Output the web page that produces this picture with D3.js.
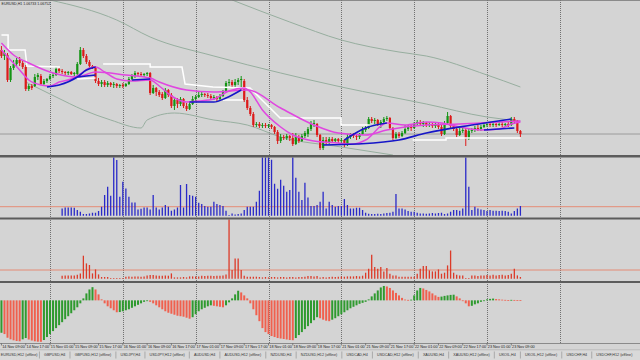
<!DOCTYPE html>
<html><head><meta charset="utf-8">
<script src="https://cdn.jsdelivr.net/npm/d3@7"></script>
<style>html,body{margin:0;padding:0;background:#d4d4d4;overflow:hidden}svg{display:block}</style>
</head><body>
<svg id="chart" width="640" height="360"></svg>
<script>
// ---------- DATA (EURUSD, H1) ----------
const openP=[
1.0750,1.0744,1.0745,1.0720,1.0732,1.0736,1.0740,1.0737,1.0733,1.0711,
1.0714,1.0714,1.0723,1.0724,1.0716,1.0719,1.0721,1.0724,1.0725,1.0731,
1.0729,1.0728,1.0727,1.0728,1.0726,1.0726,1.0736,1.0750,1.0744,1.0738,
1.0734,1.0733,1.0719,1.0716,1.0718,1.0715,1.0717,1.0715,1.0716,1.0714,
1.0715,1.0714,1.0716,1.0721,1.0724,1.0727,1.0726,1.0725,1.0726,1.0727,
1.0707,1.0712,1.0708,1.0706,1.0702,1.0710,1.0705,1.0694,1.0700,1.0696,
1.0701,1.0694,1.0691,1.0696,1.0701,1.0703,1.0705,1.0706,1.0705,1.0704,
1.0702,1.0703,1.0701,1.0704,1.0708,1.0717,1.0718,1.0715,1.0718,1.0720,
1.0719,1.0700,1.0692,1.0686,1.0675,1.0676,1.0674,1.0675,1.0674,1.0675,
1.0673,1.0668,1.0659,1.0663,1.0662,1.0664,1.0662,1.0656,1.0663,1.0659,
1.0664,1.0666,1.0671,1.0676,1.0676,1.0665,1.0652,1.0660,1.0658,1.0661,
1.0659,1.0661,1.0659,1.0660,1.0655,1.0663,1.0665,1.0664,1.0663,1.0666,
1.0670,1.0672,1.0681,1.0679,1.0680,1.0676,1.0678,1.0681,1.0682,1.0672,
1.0662,1.0666,1.0664,1.0667,1.0671,1.0673,1.0672,1.0676,1.0678,1.0676,
1.0677,1.0675,1.0676,1.0674,1.0675,1.0673,1.0666,1.0677,1.0684,1.0674,
1.0671,1.0665,1.0669,1.0670,1.0661,1.0669,1.0670,1.0672,1.0671,1.0673,
1.0675,1.0676,1.0675,1.0676,1.0675,1.0676,1.0675,1.0676,1.0675,1.0681,
1.0679,1.0669];
const highP=[
1.0754,1.0750,1.0747,1.0734,1.0740,1.0742,1.0743,1.0739,1.0735,1.0716,
1.0716,1.0726,1.0727,1.0726,1.0721,1.0722,1.0726,1.0727,1.0733,1.0732,
1.0731,1.0729,1.0729,1.0729,1.0728,1.0738,1.0753,1.0752,1.0746,1.0740,
1.0735,1.0734,1.0722,1.0720,1.0720,1.0719,1.0718,1.0718,1.0717,1.0716,
1.0717,1.0717,1.0723,1.0726,1.0729,1.0728,1.0728,1.0727,1.0728,1.0728,
1.0715,1.0713,1.0710,1.0708,1.0712,1.0711,1.0707,1.0703,1.0702,1.0703,
1.0702,1.0697,1.0699,1.0704,1.0705,1.0708,1.0708,1.0707,1.0707,1.0706,
1.0705,1.0704,1.0706,1.0710,1.0719,1.0721,1.0720,1.0721,1.0722,1.0724,
1.0721,1.0703,1.0694,1.0688,1.0678,1.0678,1.0677,1.0677,1.0676,1.0676,
1.0674,1.0670,1.0666,1.0665,1.0666,1.0665,1.0667,1.0667,1.0665,1.0666,
1.0669,1.0673,1.0679,1.0680,1.0677,1.0666,1.0663,1.0663,1.0663,1.0663,
1.0662,1.0662,1.0662,1.0661,1.0666,1.0667,1.0667,1.0666,1.0667,1.0673,
1.0674,1.0683,1.0683,1.0682,1.0681,1.0680,1.0683,1.0684,1.0683,1.0673,
1.0668,1.0668,1.0669,1.0675,1.0675,1.0675,1.0678,1.0680,1.0680,1.0679,
1.0678,1.0678,1.0677,1.0677,1.0677,1.0675,1.0679,1.0688,1.0685,1.0676,
1.0673,1.0672,1.0673,1.0672,1.0671,1.0672,1.0674,1.0675,1.0675,1.0677,
1.0678,1.0678,1.0678,1.0677,1.0678,1.0678,1.0677,1.0678,1.0683,1.0683,
1.0680,1.0670];
const lowP=[
1.0742,1.0740,1.0718,1.0718,1.0730,1.0734,1.0734,1.0731,1.0709,1.0709,
1.0710,1.0713,1.0720,1.0715,1.0715,1.0717,1.0720,1.0722,1.0724,1.0727,
1.0726,1.0725,1.0725,1.0725,1.0724,1.0725,1.0735,1.0742,1.0736,1.0732,
1.0731,1.0717,1.0714,1.0713,1.0713,1.0713,1.0713,1.0712,1.0712,1.0712,
1.0712,1.0713,1.0715,1.0720,1.0722,1.0724,1.0723,1.0723,1.0724,1.0705,
1.0706,1.0704,1.0703,1.0700,1.0701,1.0703,1.0692,1.0690,1.0692,1.0694,
1.0692,1.0689,1.0690,1.0695,1.0699,1.0702,1.0703,1.0703,1.0702,1.0701,
1.0700,1.0699,1.0700,1.0703,1.0707,1.0714,1.0712,1.0713,1.0715,1.0710,
1.0698,1.0690,1.0684,1.0673,1.0673,1.0672,1.0672,1.0672,1.0672,1.0671,
1.0666,1.0656,1.0657,1.0660,1.0660,1.0659,1.0654,1.0655,1.0657,1.0658,
1.0662,1.0663,1.0669,1.0673,1.0663,1.0650,1.0650,1.0655,1.0656,1.0657,
1.0657,1.0657,1.0657,1.0653,1.0654,1.0661,1.0662,1.0660,1.0661,1.0665,
1.0668,1.0671,1.0677,1.0676,1.0674,1.0672,1.0676,1.0679,1.0670,1.0660,
1.0661,1.0662,1.0663,1.0666,1.0669,1.0669,1.0671,1.0674,1.0674,1.0673,
1.0673,1.0673,1.0672,1.0672,1.0671,1.0664,1.0665,1.0676,1.0672,1.0669,
1.0663,1.0664,1.0667,1.0654,1.0660,1.0667,1.0668,1.0669,1.0669,1.0672,
1.0673,1.0673,1.0673,1.0673,1.0674,1.0673,1.0673,1.0673,1.0674,1.0676,
1.0667,1.0663];
const closeP=[
1.0744,1.0747,1.0720,1.0732,1.0736,1.0740,1.0737,1.0733,1.0711,1.0714,
1.0712,1.0723,1.0725,1.0716,1.0719,1.0721,1.0724,1.0725,1.0731,1.0729,
1.0728,1.0727,1.0728,1.0726,1.0727,1.0736,1.0750,1.0744,1.0738,1.0734,
1.0733,1.0719,1.0716,1.0718,1.0715,1.0717,1.0715,1.0716,1.0714,1.0715,
1.0714,1.0716,1.0721,1.0724,1.0727,1.0726,1.0725,1.0726,1.0727,1.0707,
1.0712,1.0708,1.0705,1.0702,1.0710,1.0705,1.0694,1.0700,1.0696,1.0701,
1.0694,1.0691,1.0696,1.0701,1.0703,1.0705,1.0706,1.0705,1.0704,1.0702,
1.0703,1.0701,1.0704,1.0708,1.0717,1.0718,1.0715,1.0718,1.0720,1.0721,
1.0700,1.0692,1.0686,1.0675,1.0676,1.0674,1.0675,1.0674,1.0675,1.0673,
1.0668,1.0659,1.0663,1.0662,1.0664,1.0662,1.0656,1.0663,1.0659,1.0664,
1.0667,1.0671,1.0676,1.0677,1.0665,1.0652,1.0660,1.0658,1.0661,1.0659,
1.0661,1.0659,1.0660,1.0655,1.0663,1.0665,1.0664,1.0663,1.0666,1.0670,
1.0672,1.0681,1.0679,1.0680,1.0676,1.0678,1.0681,1.0682,1.0672,1.0662,
1.0666,1.0664,1.0667,1.0671,1.0673,1.0672,1.0676,1.0678,1.0676,1.0677,
1.0675,1.0676,1.0674,1.0675,1.0673,1.0666,1.0677,1.0684,1.0674,1.0671,
1.0665,1.0669,1.0670,1.0661,1.0669,1.0670,1.0672,1.0671,1.0673,1.0675,
1.0676,1.0675,1.0676,1.0675,1.0676,1.0675,1.0676,1.0675,1.0681,1.0679,
1.0669,1.0666];

// moving averages (bar index, price)
const maFastBars=[0,3,6,9,13,16,19,23,26,29,31,34,38,43,49,52,56,61,65,70,75,80,82,86,92,96,103,111,116,120,127,133,140,145,151,158,164,168,171];
const maFastPrice=[1.0750,1.0740,1.0730,1.0720,1.0715,1.0714,1.0718,1.0721,1.0726,1.0732,1.0733,1.0728,1.0721,1.0719,1.0720,1.0714,1.0704,1.0698,1.0699,1.0701,1.0709,1.0712,1.0708,1.0690,1.0673,1.0665,1.0659,1.0657,1.0656,1.0660,1.0677,1.0675,1.0678,1.0677,1.0673,1.0670,1.0671,1.0676,1.0678];
const maSlowBars=[0,4,9,16,25,31,41,49,52,61,70,81,92,103,111,120,127,140,151,164,171];
const maSlowPrice=[1.0757,1.0745,1.0737,1.0728,1.0723,1.0728,1.0725,1.0722,1.0718,1.0710,1.0708,1.0710,1.0692,1.0675,1.0667,1.0665,1.0670,1.0675,1.0676,1.0678,1.0679];
// blue trend segments (null = break)
const blueBars=[15,19,25,28,31,null,25,31,null,43,49,null,62,70,74,79,null,106,117,131,140,155,168,null,113,120,127,null,159,169];
const bluePrice=[1.0713,1.0715,1.0723,1.0730,1.0733,null,1.0723,1.0725,null,1.0720,1.0721,null,1.0698,1.0698,1.0702,1.0710,null,1.0655,1.0656,1.0660,1.0667,1.0675,1.0681,null,1.0660,1.0672,1.0677,null,1.0670,1.0672];
// white price channel (null = break)
const whiteBars=[0,2.2,2.2,7.8,8.4,19.3,null,25,31,null,33.5,49,49,59.5,60.5,69.7,81.9,91.8,111.9,111.9,121.4,null,73,79.6,null,135.5,146.5,146.5,171];
const whitePrice=[1.0765,1.0765,1.0750,1.0750,1.0734,1.0733,null,1.0721,1.0722,null,1.0736,1.0736,1.0733,1.0733,1.0716,1.0713,1.0712,1.0682,1.0682,1.0675,1.0675,null,1.0700,1.0700,null,1.0660,1.0660,1.0662,1.0662];
// long period envelope lines
const bandUpperBars=[76,95,112,131,140,160,171];
const bandUpperPrice=[1.0800,1.0778,1.0760,1.0748,1.0744,1.0725,1.0713];
const bandMidBars=[16,38,49,70,92,112,140,160,171];
const bandMidPrice=[1.0800,1.0780,1.0763,1.0744,1.0727,1.0713,1.0696,1.0683,1.0679];
const bandLowerBars=[8,18,27,36,46,48,57,70,81,92,112,129];
const bandLowerPrice=[1.0718,1.0703,1.0690,1.0680,1.0672,1.0680,1.0687,1.0680,1.0675,1.0663,1.0653,1.0645];

// indicator window 1 (blue bars), starts at bar 20
const volFirstBar=20;
const volBlue=[730,830,830,830,800,570,400,170,170,230,300,300,470,900,2070,2900,2000,6000,5570,1900,
3400,2730,1900,1330,1330,630,700,830,830,630,2070,830,630,830,1070,900,500,630,830,3070,
830,3170,2070,2000,1900,1300,1170,970,900,900,1400,1170,1070,970,500,70,230,130,170,230,
570,900,900,900,1400,2500,6000,6000,6000,5600,3200,2700,3600,3000,2400,2570,6000,3800,2400,1570,
3300,1830,970,970,1070,1400,2400,730,1400,1070,900,970,970,1670,1070,730,730,800,800,570,
300,200,170,170,200,170,230,270,300,400,2170,730,730,630,470,400,400,300,230,230,
200,230,270,230,270,300,170,230,400,570,570,500,730,6000,2900,570,900,730,630,570,
470,570,500,500,470,500,470,400,230,470,730,970];
const volBlueLevel=900;
// indicator window 2 (red bars), starts at bar 20
const volRed=[300,330,330,330,330,400,530,2300,1530,1370,530,930,430,170,170,170,70,50,50,50,
70,200,230,200,230,230,200,230,330,370,370,330,300,300,330,300,530,130,130,130,
170,130,230,230,230,230,300,270,300,300,270,300,300,330,430,6000,870,2030,2030,870,
300,200,200,200,200,170,130,170,130,170,170,130,170,170,130,170,170,130,170,170,
200,270,270,230,270,130,170,130,170,200,170,200,230,200,230,230,230,270,230,300,
600,1000,2400,1170,1000,1170,730,1070,500,330,330,200,200,200,200,200,200,500,1000,1270,
1270,830,730,730,930,500,600,1330,2830,600,400,330,330,70,70,330,330,270,330,330,
370,330,400,330,370,400,330,370,500,1000,330,170];
const volRedLevel=870;
// indicator window 3 (histogram)
const histVals=[-32.7,-34,-37.7,-39.3,-40.3,-41,-41.3,-39.3,-38,-39.5,
-40.5,-41.3,-41.7,-41.8,-40,-37,-34,-31,-28,-25,
-22,-19,-16,-13,-10,-7,-3,2,7,11,
13.3,11,6,1,-3,-6,-8,-10,-12,-11.8,
-11,-10,-9,-7.5,-6,-4.5,-3,-1.5,-0.5,-1.5,
-3,-5,-7,-9,-11,-12.5,-13.5,-14.5,-15.5,-16,
-16.5,-17.5,-18.5,-17,-14,-11,-9,-7.5,-6,-5,
-5.5,-6,-6.5,-7,-5,-2,2,6,9.7,8,
5,2,-3,-9,-15,-21,-28,-32,-34,-36,
-37,-38,-38.5,-39,-39.5,-40,-40.2,-38,-35,-32,
-29,-26,-23,-20,-17,-18,-19.5,-20.5,-21,-19.5,
-18,-16,-14,-12,-10,-8,-6.5,-5,-3.5,-2.5,
-1.5,1,4,7,10,13,14.5,14,12.5,10,
7.5,5,2.5,0.8,0.5,0.7,5,10,12.5,12,
10.5,9,7,5,3.5,3.8,4.5,5,5.5,5.7,
4,2,-0.5,-3,-6,-5.5,-4,-3,-1.5,-0.5,
1,1.5,1.8,1.3,1,0.7,0.5,0.3,0.5,0.4,
0.3,0.2];

// axis / tabs
const gridBars=[16,40,64,88,112,136,160,184];
const timeLabelBars=[0,8,16,24,32,40,48,56,64,72,80,88,96,104,112,120,128,136,144,152,160,168];
const timeLabels=["14 Nov 09:00","14 Nov 17:00","15 Nov 01:00","15 Nov 09:00","15 Nov 17:00","16 Nov 01:00","16 Nov 09:00","16 Nov 17:00","17 Nov 01:00","17 Nov 09:00","17 Nov 17:00","18 Nov 01:00","18 Nov 09:00","18 Nov 17:00","21 Nov 01:00","21 Nov 09:00","21 Nov 17:00","22 Nov 01:00","22 Nov 09:00","22 Nov 17:00","23 Nov 01:00","23 Nov 09:00"];
const tabLabels=["EURUSD,H12 (offline)","GBPUSD,H4","GBPUSD,H12 (offline)","USDJPY,H4","USDJPY,H12 (offline)","AUDUSD,H4","AUDUSD,H12 (offline)","NZDUSD,H4","NZDUSD,H12 (offline)","USDCAD,H4","USDCAD,H12 (offline)","XAUUSD,H4","XAUUSD,H12 (offline)","UKOIL,H4","UKOIL,H12 (offline)","USDCHF,H4","USDCHF,H12 (offline)"];
const titleText="EURUSD,H1 1.06733 1.06752";

// ---------- DRAW ----------
const svg=d3.select('#chart');
const FONT='"Liberation Sans", Arial, sans-serif';
svg.append('rect').attr('width',640).attr('height',360).attr('fill','#d4d4d4');

const N=openP.length;
const xs=d3.scaleLinear().domain([0,N-1]).range([1.44,520.4]);
const yP=d3.scaleLinear().domain([1.0645,1.0800]).range([155,0]);
const yVol=d3.scaleLinear().domain([0,5900]).range([215.7,156.7]);
const yRed=d3.scaleLinear().domain([0,5900]).range([278.7,219.7]);
const yHist=d3.scaleLinear().domain([-42,17.5]).range([342,283]);

const defs=svg.append('defs');
function clip(id,y,h){defs.append('clipPath').attr('id',id).append('rect').attr('x',0).attr('y',y).attr('width',640).attr('height',h);}
clip('cMain',0,155);clip('cVol',157.5,60);clip('cRed',219.5,61.5);clip('cHist',283,60);

// grid (dotted day separators)
svg.append('g').selectAll('line').data(gridBars).join('line')
 .attr('x1',d=>Math.round(xs(d))+0.5).attr('x2',d=>Math.round(xs(d))+0.5)
 .attr('y1',0).attr('y2',343).attr('stroke','#707070').attr('stroke-width',1).attr('stroke-dasharray','1,1');

// ---- main panel
const gM=svg.append('g').attr('clip-path','url(#cMain)');
function pts(bars,vals){return bars.map((b,i)=>({b:b,v:vals[i]}));}
const lineGen=(curve)=>d3.line().defined(d=>d.b!==null&&d.v!==null).x(d=>xs(d.b)).y(d=>yP(d.v)).curve(curve);

const bandColor='#97ae9f';
[[bandUpperBars,bandUpperPrice],[bandMidBars,bandMidPrice],[bandLowerBars,bandLowerPrice]].forEach(([b,v])=>{
  gM.append('path').attr('d',lineGen(d3.curveMonotoneX)(pts(b,v))).attr('fill','none').attr('stroke',bandColor).attr('stroke-width',1);
});
// bid line
gM.append('line').attr('x1',0).attr('x2',640).attr('y1',yP(closeP[N-1])).attr('y2',yP(closeP[N-1])).attr('stroke','#8e8e8e').attr('stroke-width',0.8);

// candles
const bull='#149414', bear='#dc1a1a';
const candles=d3.range(N).map(i=>({i,o:openP[i],h:highP[i],l:lowP[i],c:closeP[i]}));
const gC=gM.append('g');
gC.selectAll('line').data(candles).join('line')
 .attr('x1',d=>xs(d.i)).attr('x2',d=>xs(d.i)).attr('y1',d=>yP(d.h)).attr('y2',d=>yP(d.l))
 .attr('stroke',d=>d.c>=d.o?bull:bear).attr('stroke-width',1);
gC.selectAll('rect').data(candles).join('rect')
 .attr('x',d=>xs(d.i)-1.1).attr('width',2.2)
 .attr('y',d=>yP(Math.max(d.o,d.c))).attr('height',d=>Math.max(1,Math.abs(yP(d.o)-yP(d.c))))
 .attr('fill',d=>d.c>=d.o?bull:bear);

// white channel
gM.append('path').attr('d',lineGen(d3.curveLinear)(pts(whiteBars,whitePrice))).attr('fill','none').attr('stroke','#ffffff').attr('stroke-width',1.5);
// MAs
gM.append('path').attr('d',lineGen(d3.curveMonotoneX)(pts(maSlowBars,maSlowPrice))).attr('fill','none').attr('stroke','#e046e0').attr('stroke-width',1.5);
gM.append('path').attr('d',lineGen(d3.curveMonotoneX)(pts(maFastBars,maFastPrice))).attr('fill','none').attr('stroke','#e046e0').attr('stroke-width',1.5);
// blue
gM.append('path').attr('d',lineGen(d3.curveMonotoneX)(pts(blueBars,bluePrice))).attr('fill','none').attr('stroke','#1616c8').attr('stroke-width',1.6);

// title
svg.append('text').attr('x',1.5).attr('y',4.5).attr('font-family',FONT).attr('font-size',3.6).attr('fill','#222').text(titleText);

// ---- blue bar window
const gV=svg.append('g').attr('clip-path','url(#cVol)');
gV.append('line').attr('x1',0).attr('x2',640).attr('y1',yVol(volBlueLevel)).attr('y2',yVol(volBlueLevel)).attr('stroke','#e8785e').attr('stroke-width',0.8);
gV.selectAll('line.b').data(volBlue.map((v,k)=>({i:k+volFirstBar,v}))).join('line').attr('class','b')
 .attr('x1',d=>xs(d.i)).attr('x2',d=>xs(d.i)).attr('y1',yVol(0)).attr('y2',d=>Math.min(yVol(d.v),yVol(0)-0.8))
 .attr('stroke','#2a2ac8').attr('stroke-width',1.3);

// ---- red bar window
const gR=svg.append('g').attr('clip-path','url(#cRed)');
gR.append('line').attr('x1',0).attr('x2',640).attr('y1',yRed(volRedLevel)).attr('y2',yRed(volRedLevel)).attr('stroke','#e8785e').attr('stroke-width',0.8);
gR.selectAll('line.r').data(volRed.map((v,k)=>({i:k+volFirstBar,v}))).join('line').attr('class','r')
 .attr('x1',d=>xs(d.i)).attr('x2',d=>xs(d.i)).attr('y1',yRed(0)).attr('y2',d=>Math.min(yRed(d.v),yRed(0)-0.8))
 .attr('stroke','#dc3a28').attr('stroke-width',1.3);

// ---- histogram window
const gH=svg.append('g').attr('clip-path','url(#cHist)');
gH.selectAll('rect').data(histVals.map((v,i)=>({i,v,up:i===0||v>histVals[i-1]}))).join('rect')
 .attr('x',d=>xs(d.i)-1).attr('width',2)
 .attr('y',d=>Math.min(yHist(d.v),yHist(0))).attr('height',d=>Math.max(0.8,Math.abs(yHist(d.v)-yHist(0))))
 .attr('fill',d=>d.up?'#2f9a2f':'#f0604e');

// separators
[[155,2.5],[217.5,2],[281,2]].forEach(([y,h])=>svg.append('rect').attr('x',0).attr('y',y).attr('width',640).attr('height',h).attr('fill','#5c5c5c'));
svg.append('rect').attr('x',0).attr('y',0).attr('width',640).attr('height',0.8).attr('fill','#777');
svg.append('line').attr('x1',0).attr('x2',640).attr('y1',343.5).attr('y2',343.5).attr('stroke','#8a8a8a').attr('stroke-width',1);

// time axis
const gT=svg.append('g');
gT.selectAll('line').data(timeLabelBars).join('line')
 .attr('x1',d=>xs(d)).attr('x2',d=>xs(d)).attr('y1',343.5).attr('y2',345.5).attr('stroke','#444').attr('stroke-width',0.6);
gT.selectAll('text').data(timeLabelBars).join('text')
 .attr('x',d=>xs(d)+0.8).attr('y',347.6).attr('font-family',FONT).attr('font-size',3.8).attr('fill','#222')
 .text((d,i)=>timeLabels[i]);

// tabs
svg.append('rect').attr('x',0).attr('y',349.5).attr('width',640).attr('height',10.5).attr('fill','#d9d9d9');
svg.append('line').attr('x1',0).attr('x2',640).attr('y1',349.8).attr('y2',349.8).attr('stroke','#a8a8a8').attr('stroke-width',0.6);
const gTab=svg.append('g');
const tabTexts=tabLabels.map(t=>gTab.append('text').attr('y',356.3).attr('font-family',FONT).attr('font-size',3.7).attr('fill','#333').text(t));
const widths=tabTexts.map(t=>t.node().getComputedTextLength());
const totalW=d3.sum(widths);
const nT=tabLabels.length;
// padding from the reference period, reduced if needed so that every tab fits in the strip
const pad=Math.max(1.5,Math.min((78.5-widths[1]-widths[2])/4,(637-totalW-2.8)/(2*(nT-1))));
let cx=0;
tabTexts.forEach((t,k)=>{
  const lp = k===0 ? 0.8 : pad;
  t.attr('x',cx+lp);
  cx+=lp+widths[k]+(k===0?2:pad);
  if(k<nT-1) gTab.append('line').attr('x1',cx).attr('x2',cx).attr('y1',351.5).attr('y2',358.5).attr('stroke','#8a8a8a').attr('stroke-width',0.6);
});
</script>
</body></html>
